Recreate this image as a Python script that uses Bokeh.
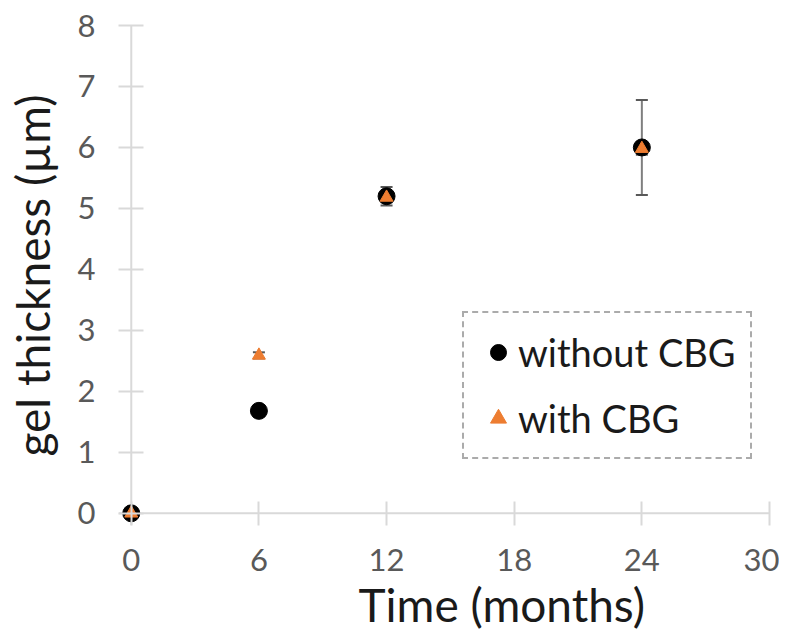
from bokeh.plotting import figure
from bokeh.models import (ColumnDataSource, Whisker, Range1d, FixedTicker, Legend, LegendItem,
                          TeeHead, Span, Title)
from bokeh.embed import file_html
from bokeh.resources import INLINE

# Data
months = [0, 6, 12, 24]
without_cbg = [0.0, 1.68, 5.2, 6.0]
without_err = [0.0, 0.0, 0.15, 0.78]
with_cbg = [0.0, 2.59, 5.18, 5.98]
with_err = [0.0, 0.05, 0.08, 0.1]
x_ticks = [0, 6, 12, 18, 24, 30]
y_ticks = [0, 1, 2, 3, 4, 5, 6, 7, 8]
x_title = "Time (months)"
y_title = "gel thickness (µm)"

FONT = "Lato"
AXIS_GRAY = "#d9d9d9"
LABEL_GRAY = "#595959"

p = figure(frame_width=651, frame_height=500, output_backend="svg", toolbar_location=None,
           x_range=Range1d(-0.6, 30), y_range=Range1d(-0.2, 8),
           min_border_left=118, min_border_right=10, min_border_top=25, min_border_bottom=95)
p.outline_line_color = None
p.xgrid.visible = False
p.ygrid.visible = False

# axis lines crossing at the origin
p.add_layout(Span(location=0, dimension="height", line_color=AXIS_GRAY, line_width=2, level="underlay"))
p.add_layout(Span(location=0, dimension="width", line_color=AXIS_GRAY, line_width=2, level="underlay"))

src_a = ColumnDataSource(dict(x=months, y=without_cbg,
                              lo=[v - e for v, e in zip(without_cbg, without_err)],
                              hi=[v + e for v, e in zip(without_cbg, without_err)]))
src_b = ColumnDataSource(dict(x=months, y=with_cbg,
                              lo=[v - e for v, e in zip(with_cbg, with_err)],
                              hi=[v + e for v, e in zip(with_cbg, with_err)]))

for src in (src_a, src_b):
    w = Whisker(base="x", lower="lo", upper="hi", source=src, line_color="#7f7f7f", line_width=2)
    w.upper_head = TeeHead(size=12, line_color="#595959", line_width=2)
    w.lower_head = TeeHead(size=12, line_color="#595959", line_width=2)
    p.add_layout(w)

r1 = p.scatter("x", "y", source=src_a, marker="circle", size=17, fill_color="black", line_color="black")
r2 = p.scatter("x", "y", source=src_b, marker="triangle", size=13, fill_color="#ED7D31", line_color="#ED7D31")

for ax, ticks in ((p.xaxis[0], x_ticks), (p.yaxis[0], y_ticks)):
    ax.ticker = FixedTicker(ticks=ticks)
    ax.axis_line_color = None
    ax.major_tick_line_color = AXIS_GRAY
    ax.major_tick_line_width = 2
    ax.major_tick_out = 0
    ax.minor_tick_line_color = None
    ax.major_label_text_font = FONT
    ax.major_label_text_font_size = "31px"
    ax.major_label_text_color = LABEL_GRAY

p.xaxis.major_tick_in = 24
p.yaxis.major_tick_in = 25
p.xaxis.major_label_standoff = 23
p.yaxis.major_label_standoff = 23

p.yaxis.axis_label = y_title
p.yaxis.axis_label_text_font = FONT
p.yaxis.axis_label_text_font_size = "46px"
p.yaxis.axis_label_text_font_style = "normal"
p.yaxis.axis_label_text_color = "#1a1a1a"
p.yaxis.axis_label_text_line_height = 0.9
p.yaxis.axis_label_standoff = 15

xt = Title(text=x_title, align="left", offset=240, standoff=3,
           text_font=FONT, text_font_size="46px", text_font_style="normal", text_color="#1a1a1a")
p.add_layout(xt, "below")

legend = Legend(items=[LegendItem(label="without CBG", renderers=[r1]),
                       LegendItem(label="with CBG", renderers=[r2])],
                location=(344, 66), orientation="vertical")
legend.border_line_color = "#595959"
legend.border_line_dash = "10 5"
legend.border_line_width = 2
legend.background_fill_alpha = 0
legend.label_text_font = FONT
legend.label_text_font_size = "38px"
legend.label_text_color = "#1a1a1a"
legend.glyph_width = 40
legend.glyph_height = 40
legend.label_height = 50
legend.padding = 14
legend.spacing = 16
legend.label_standoff = 0
legend.margin = 0
p.add_layout(legend)

open("out.html", "w").write(file_html(p, INLINE))
